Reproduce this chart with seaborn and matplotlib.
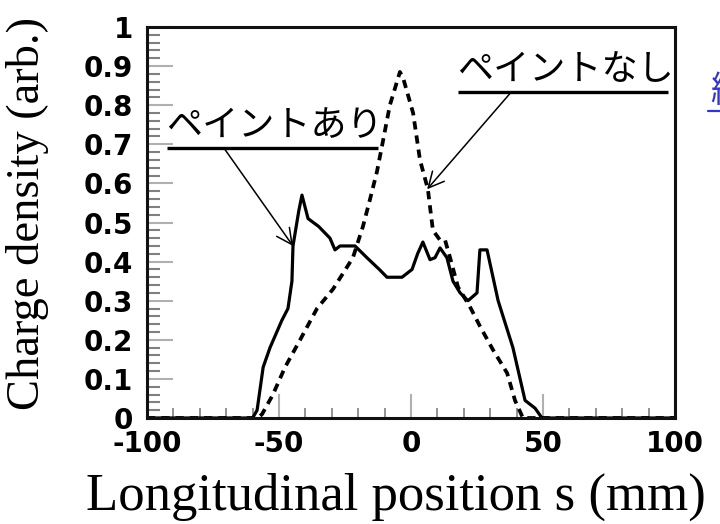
import matplotlib
matplotlib.use("Agg")
import matplotlib.pyplot as plt
import seaborn as sns
import pandas as pd
from matplotlib.ticker import MultipleLocator, FixedLocator, FixedFormatter
from matplotlib.lines import Line2D

# ---- data ----
s_paint = [-100, -60, -58.3, -56, -53.4, -48.9, -46.6, -45.1, -44.7, -42.5, -41.3,
           -39, -35, -30.7, -28.8, -26.9, -21.2, -16.7, -12, -9.1, -3.4, 0.4, 2.5,
           4.5, 7.2, 9.1, 11, 13.6, 15.9, 18.6, 21.6, 25, 26.1, 28.8, 33, 38.6,
           43.2, 47, 49.6, 100]
rho_paint = [0, 0, 0.02, 0.13, 0.18, 0.25, 0.28, 0.35, 0.44, 0.53, 0.57,
             0.51, 0.49, 0.46, 0.43, 0.44, 0.44, 0.41, 0.38, 0.36, 0.36, 0.38, 0.42,
             0.45, 0.405, 0.41, 0.435, 0.41, 0.35, 0.32, 0.30, 0.32, 0.43, 0.43, 0.30, 0.18,
             0.045, 0.025, 0, 0]

s_nopaint = [-100, -58, -56.4, -52.3, -47.7, -42, -35.6, -29.5, -22, -18.2, -15.5,
             -12.9, -11, -8, -4.2, -3, 0.8, 3.4, 6.4, 7.2, 8.3, 11, 12.9, 14.8,
             17.8, 22.3, 26.1, 31, 36.4, 39.4, 42.4, 100]
rho_nopaint = [0, 0, 0.01, 0.06, 0.13, 0.2, 0.28, 0.33, 0.41, 0.49, 0.56,
               0.63, 0.695, 0.80, 0.885, 0.87, 0.78, 0.66, 0.585, 0.54, 0.48, 0.455, 0.455, 0.41,
               0.335, 0.285, 0.235, 0.175, 0.115, 0.045, 0, 0]

x_ticks = [-100, -50, 0, 50, 100]
x_ticklabels = ["-100", "-50", "0", "50", "100"]
y_ticks = [0, 0.1, 0.2, 0.3, 0.4, 0.5, 0.6, 0.7, 0.8, 0.9, 1.0]
y_ticklabels = ["0", "0.1", "0.2", "0.3", "0.4", "0.5", "0.6", "0.7", "0.8", "0.9", "1"]

label_paint = "ペイントあり"
label_nopaint = "ペイントなし"
xlabel = "Longitudinal position s (mm)"
ylabel = "Charge density (arb.)"

# ---- style ----
sns.set_style("white")
plt.rcParams["font.family"] = ["Noto Sans CJK JP", "DejaVu Sans"]
plt.rcParams["text.color"] = "black"
plt.rcParams["axes.labelcolor"] = "black"

fig = plt.figure(figsize=(7.2, 5.24), dpi=100)
ax = fig.add_axes([147/720, 1-418/524, (675-147)/720, (418-27)/524])

df_p = pd.DataFrame({"s": s_paint, "rho": rho_paint})
df_n = pd.DataFrame({"s": s_nopaint, "rho": rho_nopaint})

sns.lineplot(data=df_n, x="s", y="rho", ax=ax, color="black", lw=2.7,
             sort=False, estimator=None)
ax.lines[-1].set_dashes((2.2, 1.6))
sns.lineplot(data=df_p, x="s", y="rho", ax=ax, color="black", lw=2.3,
             sort=False, estimator=None)

ax.set_xlim(-100, 100)
ax.set_ylim(0, 1)

for sp in ax.spines.values():
    sp.set_color("#111111")
    sp.set_linewidth(2.2)
    sp.set_zorder(5)

ax.xaxis.set_major_locator(FixedLocator(x_ticks))
ax.xaxis.set_major_formatter(FixedFormatter(x_ticklabels))
ax.yaxis.set_major_locator(FixedLocator(y_ticks))
ax.yaxis.set_major_formatter(FixedFormatter(y_ticklabels))
ax.xaxis.set_minor_locator(MultipleLocator(10))
ax.yaxis.set_minor_locator(MultipleLocator(0.02))

ax.tick_params(axis="y", which="major", direction="in", length=19, width=1.5,
               color="#b0b0b0", pad=10, labelcolor="black")
ax.tick_params(axis="y", which="minor", direction="in", length=9, width=1.5,
               color="#808080")
ax.tick_params(axis="x", which="major", direction="in", length=17, width=1.5,
               color="#b0b0b0", pad=9, labelcolor="black")
ax.tick_params(axis="x", which="minor", direction="in", length=7, width=1.2,
               color="#808080")
ax.tick_params(left=True, bottom=True, which="both")
for lab in ax.get_xticklabels() + ax.get_yticklabels():
    lab.set_family(["DejaVu Sans"])
    lab.set_fontweight("bold")
    lab.set_fontsize(20)

ax.set_xlabel(xlabel, family=["Liberation Serif"], fontsize=38, va="center", color="black")
ax.xaxis.set_label_coords((396-147)/528, (418-497)/390)
ax.set_ylabel(ylabel, family=["Liberation Serif"], fontsize=33.5, va="center", color="black")
ax.yaxis.set_label_coords((28-147)/528, (418-214)/390)

# ---- annotations ----
ax.text(-92.8, 0.70, label_paint, fontsize=26, color="black", ha="left", va="bottom")
ax.plot([-92.4, -12.5], [0.69, 0.69], color="black", lw=2.4, solid_capstyle="butt")
ax.annotate("", xy=(-44.7, 0.44), xytext=(-70.5, 0.687),
            arrowprops=dict(arrowstyle="->", lw=1.1, color="black",
                            shrinkA=0, shrinkB=0, mutation_scale=28))

ax.text(17.4, 0.843, label_nopaint, fontsize=26, color="black", ha="left", va="bottom")
ax.plot([17.8, 97.3], [0.833, 0.833], color="black", lw=2.4, solid_capstyle="butt")
ax.annotate("", xy=(6.1, 0.585), xytext=(37.5, 0.83),
            arrowprops=dict(arrowstyle="->", lw=1.1, color="black",
                            shrinkA=0, shrinkB=0, mutation_scale=28))

# cut-off blue link text at the right edge
fig.text(710/720, 1-110/524, "縦", fontsize=26, color="#3535cc", ha="left", va="bottom")
fig.add_artist(Line2D([708/720, 1.0], [1-111/524, 1-111/524], color="#3535cc", lw=1.6,
                      transform=fig.transFigure))

fig.savefig("out.png", dpi=100)
